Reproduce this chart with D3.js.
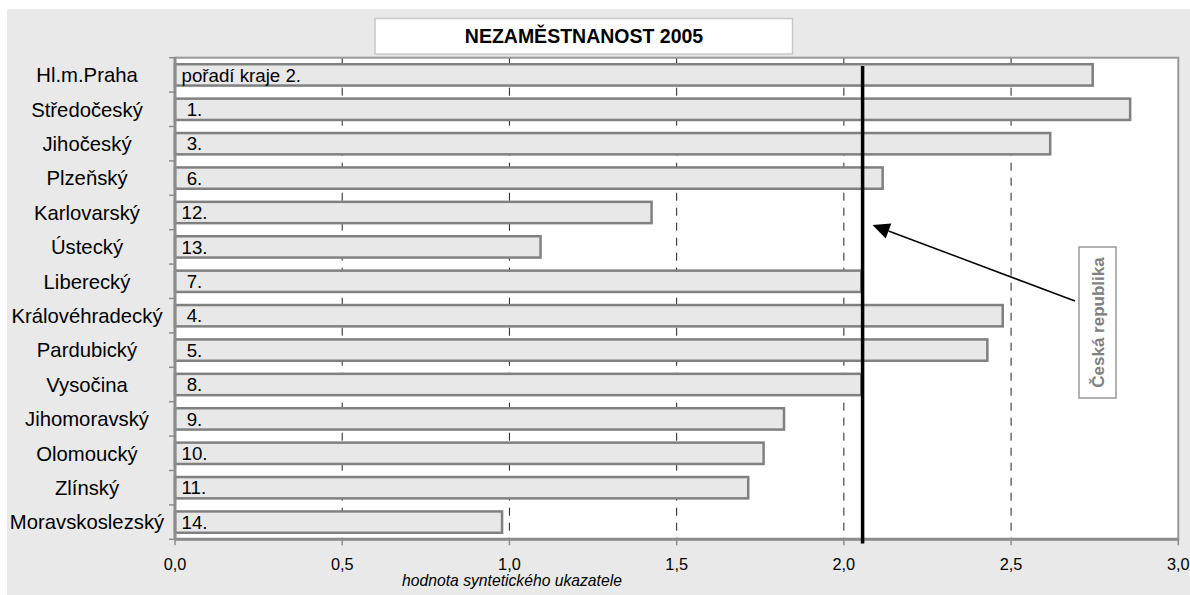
<!DOCTYPE html>
<html><head><meta charset="utf-8">
<script src="https://cdn.jsdelivr.net/npm/d3@7"></script>
<style>body{margin:0;background:#fff}svg{display:block;font-family:"Liberation Sans",Arial,sans-serif}</style>
</head><body><svg id="c" width="1190" height="595"></svg>
<script>
const regions = ["Hl.m.Praha","Středočeský","Jihočeský","Plzeňský","Karlovarský","Ústecký","Liberecký","Královéhradecký","Pardubický","Vysočina","Jihomoravský","Olomoucký","Zlínský","Moravskoslezský"];
const values = [2.744, 2.856, 2.617, 2.116, 1.425, 1.093, 2.052, 2.475, 2.429, 2.052, 1.821, 1.760, 1.714, 0.978];
const rankLabels = ["pořadí kraje 2."," 1."," 3."," 6.","12.","13."," 7."," 4."," 5."," 8."," 9.","10.","11.","14."];
const czValue = 2.056;
const xTicks = [0, 0.5, 1.0, 1.5, 2.0, 2.5, 3.0];
const title = "NEZAMĚSTNANOST 2005";
const xTitle = "hodnota syntetického ukazatele";
const czLabel = "Česká republika";

const svg = d3.select("#c");
const L = 175, R = 1178.3, T = 57.7, B = 539.3;
const x = d3.scaleLinear().domain([0, 3]).range([L, R]);
const y = d3.scaleBand().domain(regions).range([T, B]).paddingInner(0.38).paddingOuter(0.19);
const yb = d3.scaleBand().domain(regions).range([T, B]);
const fmt = d => d3.format(".1f")(d).replace(".", ",");

// outer panel
svg.append("rect").attr("x", 7).attr("y", 9).attr("width", 1183).attr("height", 586).attr("fill", "#e9e9e9");
// title box
svg.append("rect").attr("x", 375).attr("y", 18.5).attr("width", 417.5).attr("height", 35.5)
  .attr("fill", "#fff").attr("stroke", "#c8c8c8").attr("stroke-width", 1.5);
svg.append("text").attr("x", 584).attr("y", 43.3).attr("text-anchor", "middle")
  .attr("font-weight", "bold").attr("font-size", 19.5).attr("fill", "#000").text(title);

// plot area
svg.append("rect").attr("x", L).attr("y", T).attr("width", R - L).attr("height", B - T).attr("fill", "#fff");

// gridlines
svg.append("g").selectAll("line").data(xTicks.filter(d => d > 0 && d < 3)).join("line")
  .attr("x1", d => x(d)).attr("x2", d => x(d)).attr("y1", T).attr("y2", B)
  .attr("stroke", "#222").attr("stroke-width", 1).attr("stroke-dasharray", "8,7");

// bars
svg.append("g").selectAll("rect").data(regions).join("rect")
  .attr("x", x(0)).attr("y", d => y(d)).attr("height", y.bandwidth())
  .attr("width", (d, i) => x(values[i]) - x(0))
  .attr("fill", "#e8e8e8").attr("stroke", "#808080").attr("stroke-width", 2.5);

// bar labels
svg.append("g").selectAll("text").data(regions).join("text")
  .attr("x", x(0) + 6.5).attr("y", d => y(d) + y.bandwidth() / 2).attr("dy", "0.36em")
  .attr("font-size", 18.7).attr("fill", "#000").style("white-space", "pre")
  .text((d, i) => rankLabels[i]);

// plot border
svg.append("rect").attr("x", L).attr("y", T).attr("width", R - L).attr("height", B - T)
  .attr("fill", "none").attr("stroke", "#999").attr("stroke-width", 2);

// y axis
const yAxis = svg.append("g").attr("transform", `translate(${L},0)`);
yAxis.append("line").attr("x1", 0).attr("x2", 0).attr("y1", T).attr("y2", B).attr("stroke", "#8c8c8c").attr("stroke-width", 3);
yAxis.selectAll("line.t").data(regions.concat(["__end"])).join("line").attr("class", "t")
  .attr("x1", -6).attr("x2", 0)
  .attr("y1", (d, i) => i < regions.length ? yb(d) : B).attr("y2", (d, i) => i < regions.length ? yb(d) : B)
  .attr("stroke", "#8c8c8c").attr("stroke-width", 1.5);
svg.append("g").selectAll("text").data(regions).join("text")
  .attr("x", 87).attr("y", d => yb(d) + yb.bandwidth() / 2).attr("dy", "0.36em")
  .attr("text-anchor", "middle").attr("font-size", 20.3).attr("fill", "#000").text(d => d);

// x axis
const xAxis = svg.append("g").attr("transform", `translate(0,${B})`);
xAxis.append("line").attr("x1", L).attr("x2", R).attr("stroke", "#8c8c8c").attr("stroke-width", 3);
xAxis.selectAll("line.t").data(xTicks).join("line").attr("class", "t")
  .attr("x1", d => x(d)).attr("x2", d => x(d)).attr("y1", 0).attr("y2", 6)
  .attr("stroke", "#8c8c8c").attr("stroke-width", 1.5);
xAxis.selectAll("text").data(xTicks).join("text")
  .attr("x", d => x(d)).attr("y", 25).attr("dy", "0.36em").attr("text-anchor", "middle")
  .attr("font-size", 16.3).attr("fill", "#000").text(fmt);
svg.append("text").attr("x", 512).attr("y", 586).attr("text-anchor", "middle")
  .attr("font-style", "italic").attr("font-size", 15.7).attr("fill", "#000").text(xTitle);

// Czech Republic reference line
svg.append("line").attr("x1", x(czValue)).attr("x2", x(czValue)).attr("y1", 66).attr("y2", 543.5)
  .attr("stroke", "#000").attr("stroke-width", 3.5);

// arrow with triangular head
(function(){
  const x1 = 1075, y1 = 301, x2 = x(czValue) + 10, y2 = 225;
  const ang = Math.atan2(y2 - y1, x2 - x1), len = 17, w = 8;
  const bx = x2 - len * Math.cos(ang), by = y2 - len * Math.sin(ang);
  svg.append("path").attr("d", `M${x1},${y1} L${bx},${by}`)
    .attr("stroke", "#000").attr("stroke-width", 1.5).attr("fill", "none");
  const px = -Math.sin(ang) * w, py = Math.cos(ang) * w;
  svg.append("path").attr("d", `M${x2},${y2} L${bx + px},${by + py} L${bx - px},${by - py} Z`).attr("fill", "#000");
})();

// label box
svg.append("rect").attr("x", 1079).attr("y", 247).attr("width", 37).attr("height", 151)
  .attr("fill", "#fff").attr("stroke", "#999").attr("stroke-width", 1.5);
svg.append("text").attr("transform", "translate(1097.5,322.5) rotate(-90)")
  .attr("text-anchor", "middle").attr("dy", "0.36em").attr("font-weight", "bold")
  .attr("font-size", 17).attr("fill", "#808080").text(czLabel);
</script></body></html>
